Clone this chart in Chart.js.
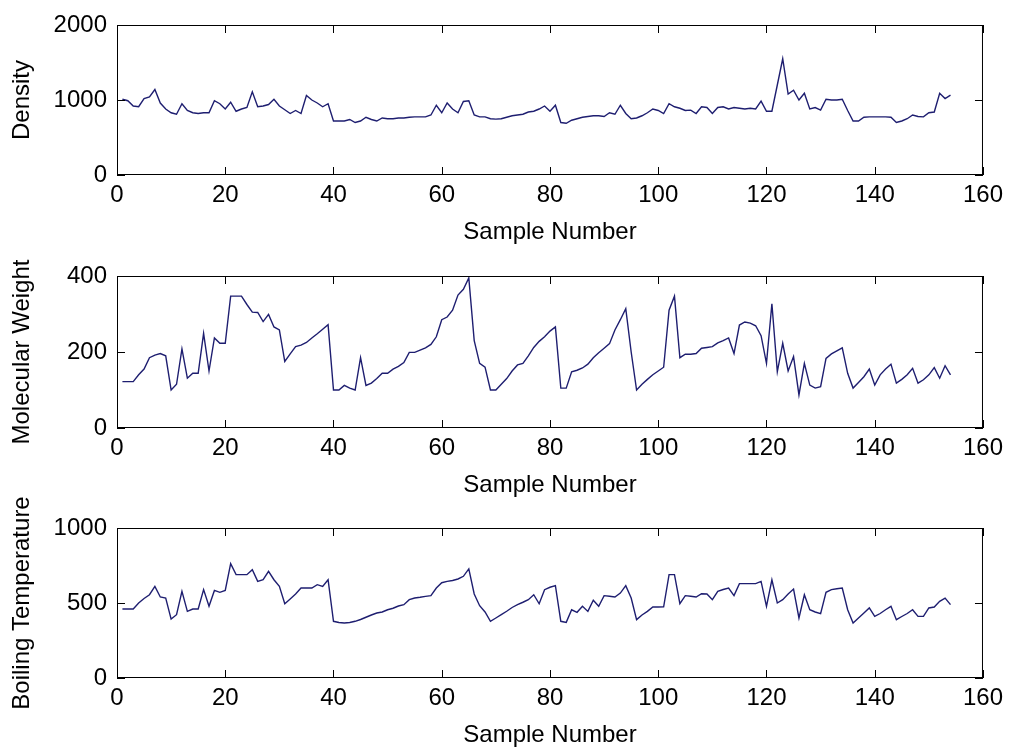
<!DOCTYPE html>
<html>
<head>
<meta charset="utf-8">
<script src="https://cdn.jsdelivr.net/npm/chart.js@4.4.0/dist/chart.umd.min.js"></script>
<style>
  html, body { margin: 0; padding: 0; background: #fff; overflow: hidden; width: 1009px; height: 748px; }
  canvas { position: absolute; left: 0; }
</style>
</head>
<body>
<canvas id="c1" width="1009" height="272" style="top:0px"></canvas>
<canvas id="c2" width="1009" height="272" style="top:240px"></canvas>
<canvas id="c3" width="1009" height="272" style="top:480px"></canvas>
<script>
// ----- DATA -----
const density = [
  1010, 990, 920, 910, 1020, 1040, 1140, 960, 880, 830,
  810, 950, 860, 830, 820, 830, 830, 990, 950, 880,
  970, 850, 880, 900, 1110, 910, 920, 940, 1010, 920,
  870, 820, 860, 820, 1060, 1000, 960, 910, 950, 720,
  720, 720, 740, 700, 720, 770, 740, 720, 760, 750,
  750, 760, 760, 770, 775, 775, 775, 800, 930, 830,
  960, 880, 830, 980, 990, 800, 775, 775, 750, 745,
  750, 770, 790, 800, 810, 840, 850, 880, 920, 850,
  930, 700, 690, 730, 750, 770, 780, 790, 790, 780,
  830, 810, 930, 820, 750, 760, 790, 830, 880, 860,
  820, 950, 910, 890, 860, 865, 820, 910, 900, 820,
  900, 910, 880, 900, 890, 880, 890, 880, 985, 850,
  850, 1200, 1550, 1080, 1130, 1000, 1090, 880, 900, 865,
  1010, 1000, 1000, 1010, 860, 720, 720, 770, 775, 775,
  775, 775, 770, 700, 720, 750, 800, 780, 775, 830,
  840, 1090, 1020, 1065
];
const molWeight = [
  122, 122, 122, 140, 155, 185, 192, 196, 190, 100,
  115, 208, 131, 144, 144, 249, 150, 237, 223, 223,
  347, 347, 347, 325, 305, 304, 280, 299, 266, 258,
  175, 195, 214, 218, 225, 237, 248, 260, 272, 100,
  100, 112, 105, 100, 185, 112, 118, 130, 144, 144,
  155, 162, 172, 199, 199, 205, 211, 220, 240, 285,
  292, 310, 350, 365, 395, 230, 170, 160, 100, 100,
  115, 130, 150, 166, 170, 190, 212, 228, 240, 255,
  266, 105, 105, 148, 152, 158, 168, 185, 198, 210,
  222, 258, 285, 314, 200, 100, 115, 128, 140, 150,
  160, 310, 347, 185, 194, 194, 196, 210, 212, 214,
  224, 230, 237, 196, 271, 279, 276, 269, 243, 170,
  327, 148, 223, 150, 188, 87, 170, 113, 105, 109,
  183, 195, 203, 211, 144, 105, 120, 135, 155, 113,
  140, 155, 168, 118, 128, 140, 157, 118, 127, 140,
  159, 131, 164, 140
];
const boilTemp = [
  460, 460, 460, 500, 530, 555, 611, 540, 533, 393,
  422, 578, 444, 460, 460, 589, 478, 584, 571, 584,
  762, 689, 689, 689, 722, 644, 655, 711, 655, 611,
  495, 527, 560, 600, 600, 600, 622, 611, 655, 378,
  370, 367, 370, 378, 390, 405, 420, 433, 440, 455,
  465, 480, 489, 522, 533, 538, 544, 549, 600, 635,
  644, 650, 660, 678, 727, 560, 482, 440, 378, 400,
  422, 445, 470, 489, 505, 522, 555, 495, 589, 605,
  616, 378, 371, 455, 438, 478, 444, 518, 478, 549,
  545, 540, 566, 616, 533, 389, 420, 444, 473, 473,
  475, 689, 689, 495, 549, 545, 540, 562, 560, 522,
  578, 590, 600, 549, 629, 629, 629, 629, 644, 478,
  655, 500, 522, 560, 593, 400, 555, 455, 440, 429,
  571, 589, 595, 600, 455, 367, 400, 433, 467, 411,
  430, 455, 478, 389, 410, 430, 455, 411, 411, 467,
  473, 511, 533, 489
];

const xTicks = [0, 20, 40, 60, 80, 100, 120, 140, 160];
const densityTicks = [0, 1000, 2000];
const molTicks = [0, 200, 400];
const boilTicks = [0, 500, 1000];

// ----- STYLE -----
const FONT = "'Liberation Sans', Arial, sans-serif";
const LINE = '#1e1e70';
const H = 272;

// caixa + marcas de escala para dentro (estilo MATLAB)
const boxTicks = {
  id: 'boxTicks',
  afterDraw(chart) {
    const { ctx, chartArea: a, scales } = chart;
    ctx.save();
    ctx.strokeStyle = '#000';
    ctx.lineWidth = 1;
    ctx.strokeRect(a.left + 0.5, a.top + 0.5, a.right - a.left - 1, a.bottom - a.top - 1);
    ctx.beginPath();
    scales.x.ticks.forEach(t => {
      const px = Math.round(scales.x.getPixelForValue(t.value)) + 0.5;
      ctx.moveTo(px, a.bottom); ctx.lineTo(px, a.bottom - 8);
      ctx.moveTo(px, a.top); ctx.lineTo(px, a.top + 8);
    });
    scales.y.ticks.forEach(t => {
      const py = Math.round(scales.y.getPixelForValue(t.value)) + 0.5;
      ctx.moveTo(a.left, py); ctx.lineTo(a.left + 8, py);
      ctx.moveTo(a.right, py); ctx.lineTo(a.right - 8, py);
    });
    ctx.stroke();
    ctx.restore();
  }
};

// plotTop/plotH em pixels do canvas
function makePlot(id, values, yLabel, yMax, yTicks, plotTop, plotH) {
  const points = values.map((v, i) => ({ x: i + 1, y: v }));
  const plotBottom = plotTop + plotH;
  const xH = H - plotBottom;
  const titlePad = H - 14.4 - (plotBottom + 57);
  new Chart(document.getElementById(id), {
    type: 'line',
    data: { datasets: [{ data: points, borderColor: LINE, borderWidth: 1.4, pointRadius: 0, tension: 0, fill: false }] },
    options: {
      responsive: false,
      animation: false,
      devicePixelRatio: 1,
      layout: { padding: { top: plotTop, right: 26, bottom: 0, left: 0 } },
      plugins: { legend: { display: false }, tooltip: { enabled: false } },
      scales: {
        x: {
          type: 'linear', min: 0, max: 160,
          afterBuildTicks: s => { s.ticks = xTicks.map(v => ({ value: v })); },
          afterFit: s => { s.height = xH; },
          grid: { display: false, drawTicks: false },
          border: { display: false },
          ticks: { color: '#000', padding: 6, maxRotation: 0, callback: v => String(v), font: { family: FONT, size: 24 } },
          title: { display: true, text: 'Sample Number', color: '#000', padding: { top: 0, bottom: titlePad }, font: { family: FONT, size: 24 } }
        },
        y: {
          min: 0, max: yMax,
          afterBuildTicks: s => { s.ticks = yTicks.map(v => ({ value: v })); },
          afterFit: s => { s.width = 117; },
          grid: { display: false, drawTicks: false },
          border: { display: false },
          ticks: { color: '#000', padding: 10, callback: v => String(v), font: { family: FONT, size: 24 } },
          title: { display: true, text: yLabel, color: '#000', padding: { top: 8, bottom: 0 }, font: { family: FONT, size: 24 } }
        }
      }
    },
    plugins: [boxTicks]
  });
}

makePlot('c1', density, 'Density', 2000, densityTicks, 25, 150);
makePlot('c2', molWeight, 'Molecular Weight', 400, molTicks, 36, 152);
makePlot('c3', boilTemp, 'Boiling Temperature', 1000, boilTicks, 48, 150);
</script>
</body>
</html>
